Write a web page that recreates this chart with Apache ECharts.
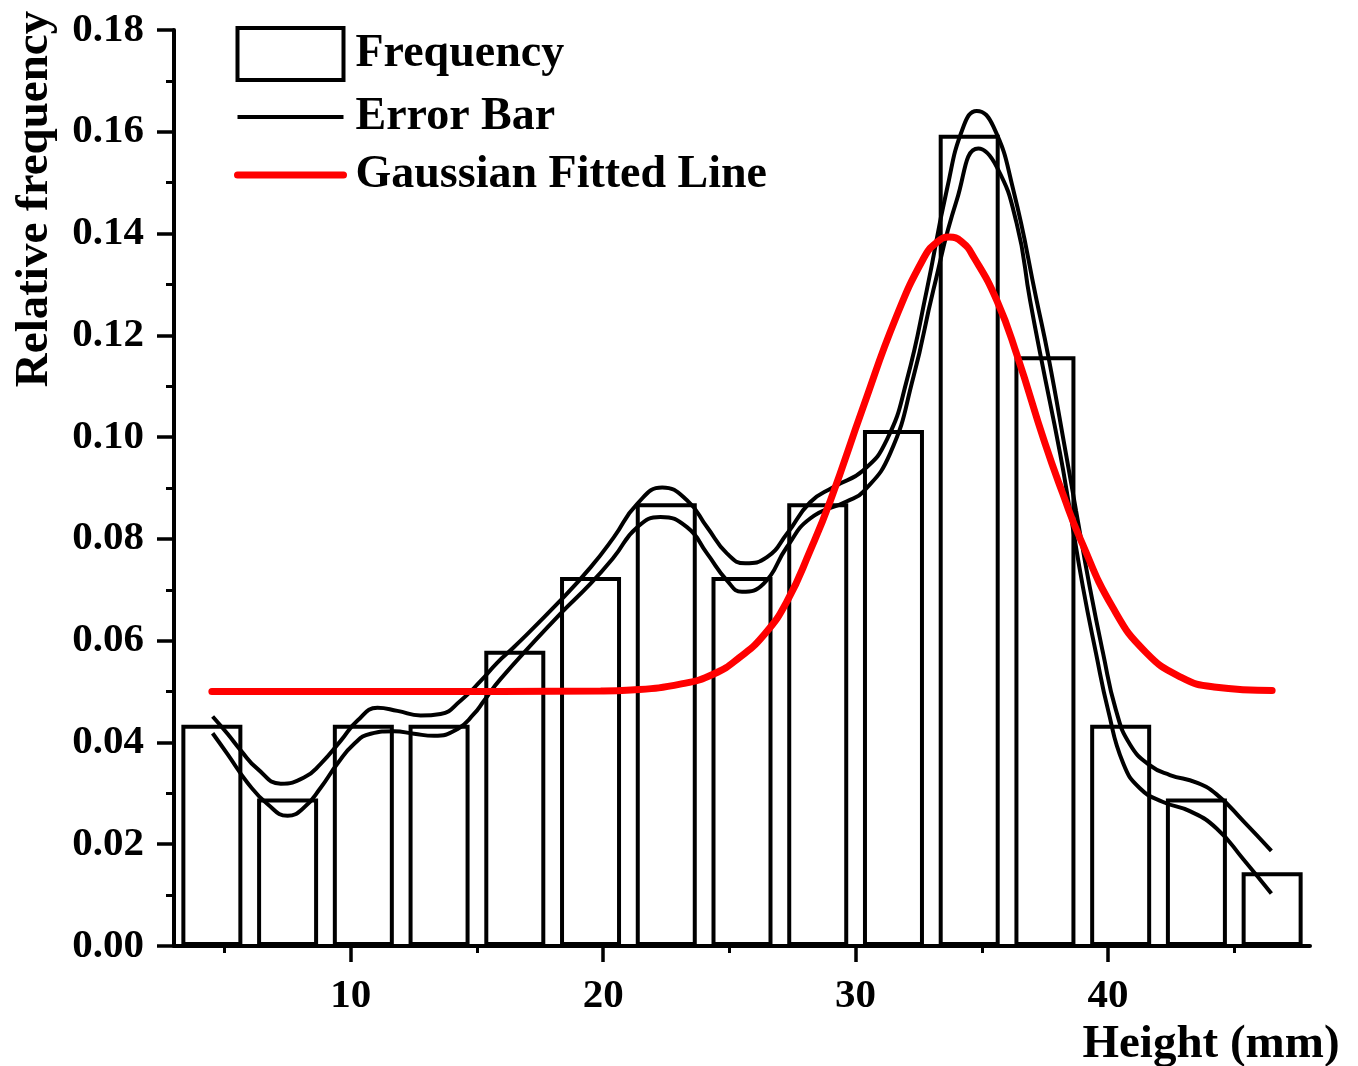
<!DOCTYPE html>
<html><head><meta charset="utf-8">
<script src="https://cdn.jsdelivr.net/npm/echarts@6/dist/echarts.min.js"></script>
<style>html,body{margin:0;padding:0;background:#fff}#chart{width:1358px;height:1066px}</style>
</head><body><div id="chart"></div>
<script>
// ---- data ----
const binCenters = [4.5, 7.5, 10.5, 13.5, 16.5, 19.5, 22.5, 25.5, 28.5, 31.5, 34.5, 37.5, 40.5, 43.5, 46.5];
const relFrequency = [0.0435, 0.029, 0.0435, 0.0435, 0.058, 0.0725, 0.087, 0.0725, 0.087, 0.1014, 0.1594, 0.1159, 0.0435, 0.029, 0.0145];

const errorUpperX = [4.53, 5.12, 5.65, 6.31, 7.23, 8.15, 8.81, 9.60, 10.27, 11.06, 11.85, 12.77, 13.56, 14.35, 15.15, 15.81, 16.46, 18.31, 19.50, 20.42, 21.35, 22.34, 23.32, 24.12, 24.91, 25.63, 26.49, 27.28, 28.20, 29.13, 30.31, 31.24, 32.03, 32.82, 33.61, 34.27, 34.80, 35.46, 36.25, 37.17, 37.64, 38.33, 38.73, 39.28, 39.80, 40.31, 40.87, 41.66, 42.45, 43.51, 44.30, 45.35, 46.47];
const errorUpperY = [0.0451, 0.0417, 0.0384, 0.0348, 0.0319, 0.0331, 0.0358, 0.0403, 0.0443, 0.0468, 0.0462, 0.0453, 0.0456, 0.0482, 0.0521, 0.0557, 0.0587, 0.0679, 0.0744, 0.0803, 0.0869, 0.0901, 0.0876, 0.0823, 0.0771, 0.0752, 0.0764, 0.0810, 0.0872, 0.0902, 0.0935, 0.0995, 0.1112, 0.1289, 0.1485, 0.1610, 0.1641, 0.1610, 0.1485, 0.1269, 0.1157, 0.0968, 0.0856, 0.0704, 0.0576, 0.0464, 0.0396, 0.0355, 0.0336, 0.0321, 0.0298, 0.0246, 0.0187];

const errorLowerX = [4.53, 5.12, 5.91, 6.70, 7.50, 8.15, 8.81, 9.47, 10.13, 10.79, 11.71, 12.51, 13.30, 14.22, 14.88, 15.28, 15.94, 18.31, 19.50, 20.42, 21.35, 22.27, 23.32, 24.12, 24.91, 25.50, 26.36, 27.28, 28.20, 29.66, 30.31, 31.37, 32.29, 33.08, 34.01, 34.86, 35.59, 36.38, 36.91, 37.34, 38.10, 38.49, 39.01, 39.52, 40.00, 40.60, 41.26, 42.18, 43.24, 44.30, 45.35, 46.47];
const errorLowerY = [0.0418, 0.0377, 0.0321, 0.0279, 0.0256, 0.0272, 0.0311, 0.0358, 0.0397, 0.0417, 0.0422, 0.0417, 0.0413, 0.0426, 0.0456, 0.0482, 0.0525, 0.0653, 0.0712, 0.0764, 0.0823, 0.0843, 0.0823, 0.0771, 0.0718, 0.0696, 0.0712, 0.0784, 0.0840, 0.0874, 0.0893, 0.0968, 0.1118, 0.1289, 0.1466, 0.1567, 0.1531, 0.1420, 0.1269, 0.1157, 0.0968, 0.0856, 0.0704, 0.0576, 0.0464, 0.0359, 0.0310, 0.0283, 0.0265, 0.0231, 0.0171, 0.0103];

const gaussX = [4.5, 12.0, 19.9, 21.1, 23.1, 24.4, 25.4, 26.4, 27.3, 28.2, 29.0, 30.3, 31.6, 32.7, 33.2, 33.7, 34.2, 34.7, 35.6, 36.4, 37.5, 38.2, 38.9, 40.2, 41.5, 42.9, 44.2, 46.5];
const gaussY = [0.0500, 0.0500, 0.0501, 0.0503, 0.0515, 0.0535, 0.0567, 0.0613, 0.0679, 0.0777, 0.0875, 0.1059, 0.1235, 0.1352, 0.1382, 0.1393, 0.1384, 0.1352, 0.1268, 0.1160, 0.0988, 0.0890, 0.0800, 0.0664, 0.0577, 0.0528, 0.0509, 0.0502];

const xMajorTicks = [10, 20, 30, 40];
const xMinorTicks = [5, 15, 25, 35, 45];

// ---- chart ----
const FONT = '"Liberation Serif", "Times New Roman", serif';
const zip = (xs, ys) => xs.map((x, i) => [x, ys[i]]);
const chart = echarts.init(document.getElementById('chart'), null, {renderer: 'canvas'});
const gridRect = {left: 174, right: 48, top: 30, bottom: 120};
const labelFont = {color: '#000', fontFamily: FONT, fontWeight: 'bold', fontSize: 41};

chart.setOption({
  animation: false,
  backgroundColor: '#fff',
  grid: [Object.assign({}, gridRect), Object.assign({}, gridRect)],
  xAxis: [
    {type: 'value', gridIndex: 0, min: 3, max: 48,
     axisLine: {show: true, onZero: false, lineStyle: {color: '#000', width: 4}},
     axisTick: {show: true, customValues: xMajorTicks, length: 16, lineStyle: {color: '#000', width: 3.5}},
     axisLabel: Object.assign({customValues: xMajorTicks, margin: 30, formatter: v => String(v)}, labelFont),
     splitLine: {show: false}},
    {type: 'value', gridIndex: 1, min: 3, max: 48,
     axisLine: {show: false},
     axisTick: {show: true, customValues: xMinorTicks, length: 7, lineStyle: {color: '#000', width: 3}},
     axisLabel: {show: false},
     splitLine: {show: false}}
  ],
  yAxis: [
    {type: 'value', gridIndex: 0, min: 0, max: 0.18, interval: 0.02,
     axisLine: {show: true, lineStyle: {color: '#000', width: 4}},
     axisTick: {show: true, length: 17, lineStyle: {color: '#000', width: 3.5}},
     minorTick: {show: true, splitNumber: 2, length: 8, lineStyle: {color: '#000', width: 3}},
     axisLabel: Object.assign({margin: 30, formatter: v => v.toFixed(2)}, labelFont),
     splitLine: {show: false}, minorSplitLine: {show: false}},
    {type: 'value', gridIndex: 1, min: 0, max: 0.18, show: false}
  ],
  legend: {
    left: 234, top: 26, padding: 0, orient: 'vertical', itemWidth: 106, itemHeight: 52, itemGap: 12,
    selectedMode: false,
    textStyle: {fontFamily: FONT, fontWeight: 'bold', fontSize: 46, color: '#000', padding: [0, 0, 0, 7]},
    data: [
      {name: 'Frequency', icon: 'rect', itemStyle: {color: '#fff', borderColor: '#000', borderWidth: 4}},
      {name: 'Error Bar', lineStyle: {width: 4, color: '#000'}, itemStyle: {color: 'rgba(0,0,0,0)', borderWidth: 0, opacity: 0}},
      {name: 'Gaussian Fitted Line', lineStyle: {width: 7, color: '#ff0000', cap: 'round'}, itemStyle: {color: 'rgba(0,0,0,0)', borderWidth: 0, opacity: 0}}
    ]
  },
  graphic: [
    {type: 'text', x: 35, y: 199, rotation: Math.PI / 2,
     style: {text: 'Relative frequency', fontFamily: FONT, fontWeight: 'bold', fontSize: 47, fill: '#000', align: 'center', verticalAlign: 'middle'}},
    {type: 'text', x: 1211, y: 1045,
     style: {text: 'Height (mm)', fontFamily: FONT, fontWeight: 'bold', fontSize: 47, fill: '#000', align: 'center', verticalAlign: 'middle'}}
  ],
  series: [
    {type: 'bar', name: 'Frequency', xAxisIndex: 0, yAxisIndex: 0, data: zip(binCenters, relFrequency),
     barWidth: 61, itemStyle: {color: 'rgba(255,255,255,0)', borderColor: '#000', borderWidth: 4}, z: 2},
    {type: 'line', name: 'Error Bar', xAxisIndex: 0, yAxisIndex: 0, data: zip(errorUpperX, errorUpperY),
     smooth: 0.5, symbol: 'none', itemStyle: {color: '#000'}, lineStyle: {color: '#000', width: 4}, z: 3},
    {type: 'line', name: 'Error Bar', xAxisIndex: 0, yAxisIndex: 0, data: zip(errorLowerX, errorLowerY),
     smooth: 0.5, symbol: 'none', itemStyle: {color: '#000'}, lineStyle: {color: '#000', width: 4}, z: 3},
    {type: 'line', name: 'Gaussian Fitted Line', xAxisIndex: 0, yAxisIndex: 0, data: zip(gaussX, gaussY),
     smooth: 0.5, symbol: 'none', itemStyle: {color: '#ff0000'}, lineStyle: {color: '#ff0000', width: 7, cap: 'round'}, z: 4}
  ]
});
</script>
</body></html>
